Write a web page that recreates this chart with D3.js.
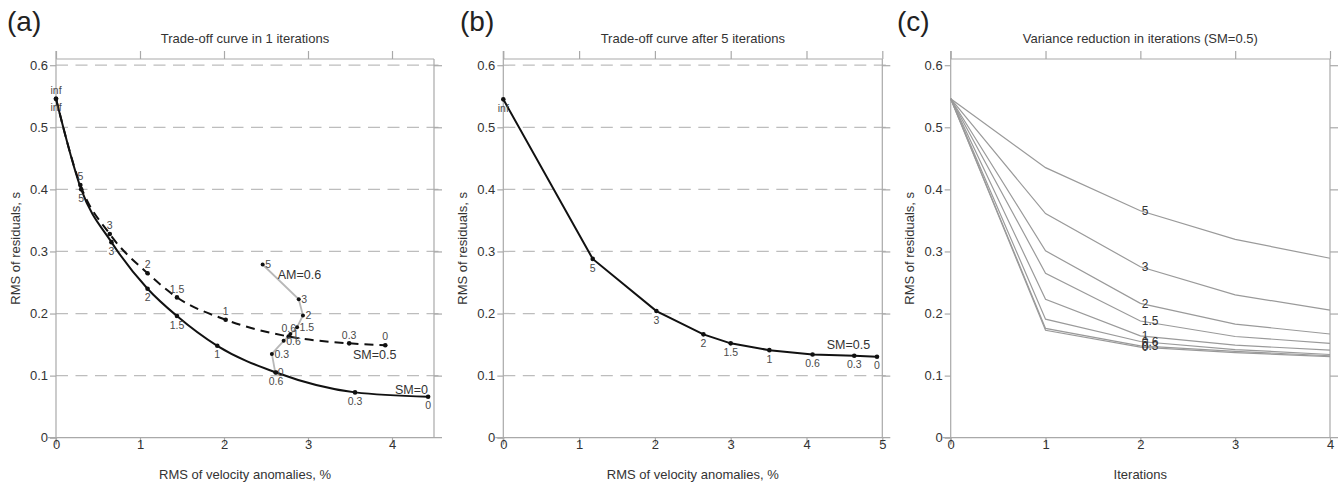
<!DOCTYPE html>
<html>
<head>
<meta charset="utf-8">
<script src="https://cdn.jsdelivr.net/npm/d3@7"></script>
<style>
	body { margin: 0; background: #fff; }
	svg text { font-family: "Liberation Sans", Arial, sans-serif; }
</style>
</head>
<body>
<svg id="chart" width="1342" height="485"></svg>
<script>
// ---- data ----

// smoothing labels for the trade-off curves
const smLabels = ['inf', '5', '3', '2', '1.5', '1', '0.6', '0.3', '0'];

// (a) SM=0, solid
const aSm0X = [0, 0.30, 0.66, 1.09, 1.44, 1.92, 2.62, 3.56, 4.43];
const aSm0Y = [0.546, 0.400, 0.315, 0.240, 0.196, 0.148, 0.105, 0.073, 0.066];

// (a) SM=0.5, dashed
const aSm05X = [0, 0.29, 0.64, 1.09, 1.44, 2.02, 2.77, 3.49, 3.92];
const aSm05Y = [0.546, 0.407, 0.328, 0.265, 0.226, 0.190, 0.163, 0.152, 0.149];

// (a) AM=0.6, grey
const amLabels = ['5', '3', '2', '1.5', '1', '0.6', '0.3', '0'];
const aAmX = [2.46, 2.89, 2.94, 2.87, 2.79, 2.71, 2.57, 2.61];
const aAmY = [0.279, 0.223, 0.197, 0.178, 0.167, 0.156, 0.135, 0.105];

// (b) after 5 iterations, SM=0.5
const bX = [0, 1.18, 2.02, 2.64, 3.00, 3.51, 4.08, 4.63, 4.93];
const bY = [0.545, 0.288, 0.204, 0.1665, 0.152, 0.141, 0.134, 0.132, 0.1305];

// (c) variance reduction per iteration
const iterations = [0, 1, 2, 3, 4];
const cLabels = ['5', '3', '2', '1.5', '1', '0.6', '0.3', '0'];
const cSm5 = [0.546, 0.435, 0.3655, 0.3195, 0.289];
const cSm3 = [0.546, 0.361, 0.2754, 0.230, 0.2056];
const cSm2 = [0.546, 0.301, 0.2164, 0.183, 0.167];
const cSm15 = [0.546, 0.265, 0.188, 0.163, 0.152];
const cSm1 = [0.546, 0.223, 0.164, 0.149, 0.141];
const cSm06 = [0.546, 0.191, 0.155, 0.142, 0.134];
const cSm03 = [0.546, 0.176, 0.148, 0.139, 0.132];
const cSm0 = [0.546, 0.173, 0.146, 0.137, 0.1305];

const yTicks = [0, 0.1, 0.2, 0.3, 0.4, 0.5, 0.6];

// ---- layout ----
const AXIS_COL = '#a9a9a9';
const GRID_COL = '#bdbdbd';
const TEXT_COL = '#333';
const top_y = 59, bottom_y = 437.7;

const svg = d3.select('#chart');

function zip(xs, ys) {
	return xs.map((x, i) => [x, ys[i]]);
}

function makePanel(p) {
	const x = d3.scaleLinear().domain(p.xDomain).range([p.left, p.right]);
	const y = d3.scaleLinear().domain([0, 0.61]).range([bottom_y, top_y]);
	const g = svg.append('g');

	// dashed grid (a and b only)
	if (p.grid) {
		g.selectAll('line.grid')
			.data(yTicks.filter(d => d > 0))
			.join('line')
			.attr('x1', p.left)
			.attr('x2', p.right + 9)
			.attr('y1', d => y(d))
			.attr('y2', d => y(d))
			.attr('stroke', GRID_COL)
			.attr('stroke-width', 1.3)
			.attr('stroke-dasharray', '12,7.5');
	}

	// frame lines, a bit longer than the plot like the original
	const frame = [
		[p.left - 8, bottom_y, p.right + 8, bottom_y],
		[p.left, top_y - 8, p.left, bottom_y + 7],
		[p.left, top_y, p.right, top_y],
		[p.right, top_y, p.right, bottom_y]
	];
	g.selectAll('line.frame')
		.data(frame)
		.join('line')
		.attr('x1', d => d[0]).attr('y1', d => d[1])
		.attr('x2', d => d[2]).attr('y2', d => d[3])
		.attr('stroke', AXIS_COL)
		.attr('stroke-width', 1.2);

	// bottom axis
	const xb = g.append('g')
		.attr('transform', `translate(0,${bottom_y})`)
		.call(d3.axisBottom(x).tickValues(p.xTicks).tickSize(6).tickFormat(d3.format('d')));
	xb.select('.domain').remove();
	xb.selectAll('line').attr('stroke', AXIS_COL).attr('stroke-width', 1.2);
	xb.selectAll('text').attr('y', 11.5).attr('dy', null)
		.attr('font-size', 13).attr('fill', TEXT_COL);

	// top ticks
	const xt = g.append('g')
		.attr('transform', `translate(0,${top_y})`)
		.call(d3.axisTop(x).tickValues(p.xTicks).tickSize(8).tickFormat(''));
	xt.select('.domain').remove();
	xt.selectAll('line').attr('stroke', AXIS_COL).attr('stroke-width', 1.2);

	// left axis
	const yl = g.append('g')
		.attr('transform', `translate(${p.left},0)`)
		.call(d3.axisLeft(y).tickValues(yTicks).tickSize(6).tickPadding(2)
			.tickFormat(d => d === 0 ? '0' : d3.format('.1f')(d)));
	yl.select('.domain').remove();
	yl.selectAll('line').attr('stroke', AXIS_COL).attr('stroke-width', 1.2);
	yl.selectAll('text').attr('font-size', 13).attr('fill', TEXT_COL);

	// right ticks
	const yr = g.append('g')
		.attr('transform', `translate(${p.right},0)`)
		.call(d3.axisRight(y).tickValues(yTicks.filter(d => d > 0)).tickSize(8).tickFormat(''));
	yr.select('.domain').remove();
	yr.selectAll('line').attr('stroke', AXIS_COL).attr('stroke-width', 1.2);

	// titles
	const cx = (p.left + p.right) / 2;
	g.append('text')
		.attr('x', cx).attr('y', 42.5)
		.attr('text-anchor', 'middle')
		.attr('font-size', 13)
		.attr('fill', TEXT_COL)
		.text(p.title);
	g.append('text')
		.attr('x', cx).attr('y', 479)
		.attr('text-anchor', 'middle')
		.attr('font-size', 13)
		.attr('fill', TEXT_COL)
		.text(p.xLabel);
	g.append('text')
		.attr('transform', `translate(${p.left - 36.5},${(top_y + bottom_y) / 2}) rotate(-90)`)
		.attr('text-anchor', 'middle')
		.attr('font-size', 13)
		.attr('fill', TEXT_COL)
		.text('RMS of residuals, s');
	g.append('text')
		.attr('x', p.letterX).attr('y', 30.5)
		.attr('font-size', 28)
		.attr('fill', '#222')
		.text(p.letter);

	return { g, x, y };
}

function drawCurve(panel, pts, opts) {
	const line = d3.line()
		.x(d => panel.x(d[0]))
		.y(d => panel.y(d[1]))
		.curve(opts.curve || d3.curveLinear);

	panel.g.append('path')
		.datum(pts)
		.attr('d', line)
		.attr('fill', 'none')
		.attr('stroke', opts.color)
		.attr('stroke-width', opts.width)
		.attr('stroke-dasharray', opts.dash || null);

	panel.g.selectAll(null)
		.data(pts)
		.join('circle')
		.attr('cx', d => panel.x(d[0]))
		.attr('cy', d => panel.y(d[1]))
		.attr('r', opts.r)
		.attr('fill', '#111');
}

function drawLabels(panel, pts, labels, where, size) {
	panel.g.selectAll(null)
		.data(pts)
		.join('text')
		.attr('x', d => panel.x(d[0]) + (where == 'right' ? 2.5 : 0))
		.attr('y', d => {
			const py = panel.y(d[1]);
			if (where == 'above') return py - 4.7;
			if (where == 'below') return py + 12.6;
			return py + 3.8;
		})
		.attr('text-anchor', where == 'right' ? 'start' : 'middle')
		.attr('font-size', size)
		.attr('fill', '#4a4a4a')
		.text((d, i) => labels[i]);
}

function note(panel, x, y, txt) {
	panel.g.append('text')
		.attr('x', panel.x(x))
		.attr('y', panel.y(y))
		.attr('font-size', 12.5)
		.attr('fill', TEXT_COL)
		.text(txt);
}

// ---- panel (a) ----
const pa = makePanel({
	left: 56, right: 434, xDomain: [0, 4.5], xTicks: [0, 1, 2, 3, 4],
	grid: true, letter: '(a)', letterX: 7,
	title: 'Trade-off curve in 1 iterations',
	xLabel: 'RMS of velocity anomalies, %'
});

const aAm = zip(aAmX, aAmY);
const aSm05 = zip(aSm05X, aSm05Y);
const aSm0 = zip(aSm0X, aSm0Y);

drawCurve(pa, aAm, { color: '#b8b8b8', width: 1.8, r: 2 });
drawCurve(pa, aSm05, { color: '#111', width: 2, r: 2.3, dash: '9,6', curve: d3.curveMonotoneX });
drawCurve(pa, aSm0, { color: '#111', width: 2, r: 2.3, curve: d3.curveMonotoneX });

drawLabels(pa, aAm, amLabels, 'right', 10.5);
drawLabels(pa, aSm05, smLabels, 'above', 10.5);
drawLabels(pa, aSm0, smLabels, 'below', 10.5);

note(pa, 2.64, 0.255, 'AM=0.6');
note(pa, 3.536, 0.1275, 'SM=0.5');
note(pa, 4.036, 0.0711, 'SM=0');

// ---- panel (b) ----
const pb = makePanel({
	left: 503.3, right: 882.3, xDomain: [0, 5], xTicks: [0, 1, 2, 3, 4, 5],
	grid: true, letter: '(b)', letterX: 460,
	title: 'Trade-off curve after 5 iterations',
	xLabel: 'RMS of velocity anomalies, %'
});

const bPts = zip(bX, bY);
drawCurve(pb, bPts, { color: '#111', width: 2, r: 2.3 });
drawLabels(pb, bPts, smLabels, 'below', 10.5);
note(pb, 4.267, 0.1436, 'SM=0.5');

// ---- panel (c) ----
const pc = makePanel({
	left: 950.7, right: 1330, xDomain: [0, 4], xTicks: [0, 1, 2, 3, 4],
	grid: false, letter: '(c)', letterX: 897,
	title: 'Variance reduction in iterations (SM=0.5)',
	xLabel: 'Iterations'
});

const cSeries = [cSm5, cSm3, cSm2, cSm15, cSm1, cSm06, cSm03, cSm0];
const cLine = d3.line()
	.x((d, i) => pc.x(iterations[i]))
	.y(d => pc.y(d));

pc.g.selectAll('path.iter')
	.data(cSeries)
	.join('path')
	.attr('class', 'iter')
	.attr('d', cLine)
	.attr('fill', 'none')
	.attr('stroke', '#9a9a9a')
	.attr('stroke-width', 1.2);

// labels at iteration 2; the lowest ones pile up as in the original
pc.g.selectAll('text.iterlab')
	.data(cSeries)
	.join('text')
	.attr('class', 'iterlab')
	.attr('x', pc.x(iterations[2]) + 1.5)
	.attr('y', d => pc.y(d[2]) + 4.3)
	.attr('font-size', 12)
	.attr('fill', TEXT_COL)
	.text((d, i) => cLabels[i]);
</script>
</body>
</html>
